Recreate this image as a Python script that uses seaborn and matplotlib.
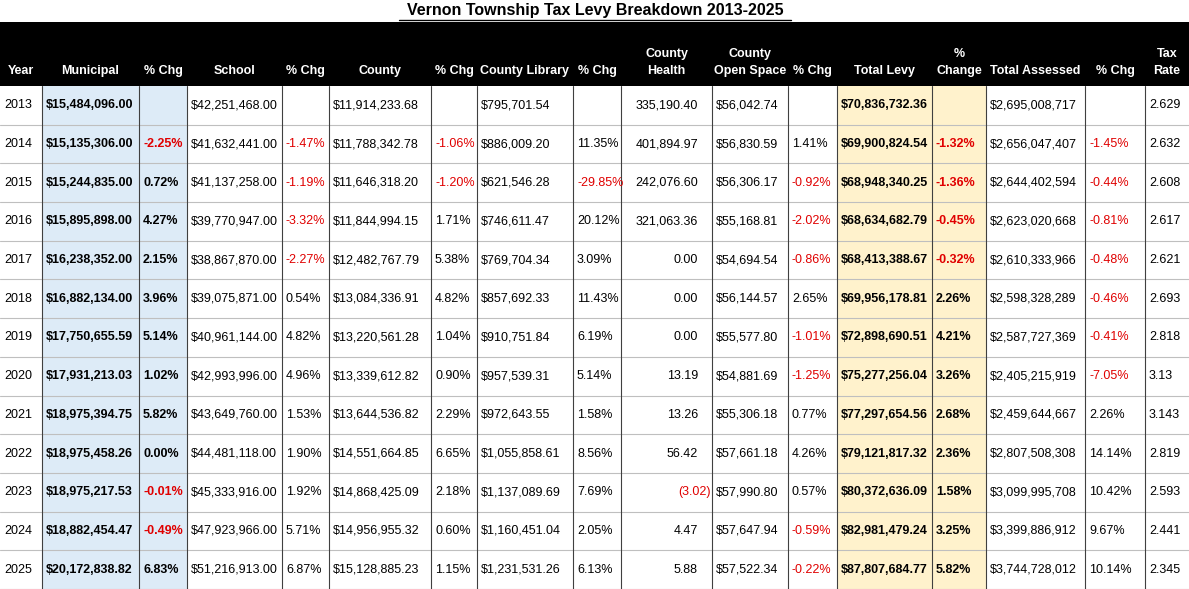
import matplotlib
matplotlib.use("Agg")
import matplotlib.pyplot as plt
import seaborn as sns

sns.set_theme(style="white", font="Liberation Sans")

years = ["2013", "2014", "2015", "2016", "2017", "2018", "2019", "2020", "2021", "2022", "2023", "2024", "2025"]
municipal = ["$15,484,096.00", "$15,135,306.00", "$15,244,835.00", "$15,895,898.00", "$16,238,352.00", "$16,882,134.00",
             "$17,750,655.59", "$17,931,213.03", "$18,975,394.75", "$18,975,458.26", "$18,975,217.53", "$18,882,454.47",
             "$20,172,838.82"]
municipal_chg = ["", "-2.25%", "0.72%", "4.27%", "2.15%", "3.96%", "5.14%", "1.02%", "5.82%", "0.00%", "-0.01%", "-0.49%", "6.83%"]
school = ["$42,251,468.00", "$41,632,441.00", "$41,137,258.00", "$39,770,947.00", "$38,867,870.00", "$39,075,871.00",
          "$40,961,144.00", "$42,993,996.00", "$43,649,760.00", "$44,481,118.00", "$45,333,916.00", "$47,923,966.00",
          "$51,216,913.00"]
school_chg = ["", "-1.47%", "-1.19%", "-3.32%", "-2.27%", "0.54%", "4.82%", "4.96%", "1.53%", "1.90%", "1.92%", "5.71%", "6.87%"]
county = ["$11,914,233.68", "$11,788,342.78", "$11,646,318.20", "$11,844,994.15", "$12,482,767.79", "$13,084,336.91",
          "$13,220,561.28", "$13,339,612.82", "$13,644,536.82", "$14,551,664.85", "$14,868,425.09", "$14,956,955.32",
          "$15,128,885.23"]
county_chg = ["", "-1.06%", "-1.20%", "1.71%", "5.38%", "4.82%", "1.04%", "0.90%", "2.29%", "6.65%", "2.18%", "0.60%", "1.15%"]
library = ["$795,701.54", "$886,009.20", "$621,546.28", "$746,611.47", "$769,704.34", "$857,692.33", "$910,751.84",
           "$957,539.31", "$972,643.55", "$1,055,858.61", "$1,137,089.69", "$1,160,451.04", "$1,231,531.26"]
library_chg = ["", "11.35%", "-29.85%", "20.12%", "3.09%", "11.43%", "6.19%", "5.14%", "1.58%", "8.56%", "7.69%", "2.05%", "6.13%"]
health = ["335,190.40", "401,894.97", "242,076.60", "321,063.36", "0.00", "0.00", "0.00", "13.19", "13.26", "56.42",
          "(3.02)", "4.47", "5.88"]
open_space = ["$56,042.74", "$56,830.59", "$56,306.17", "$55,168.81", "$54,694.54", "$56,144.57", "$55,577.80",
              "$54,881.69", "$55,306.18", "$57,661.18", "$57,990.80", "$57,647.94", "$57,522.34"]
open_space_chg = ["", "1.41%", "-0.92%", "-2.02%", "-0.86%", "2.65%", "-1.01%", "-1.25%", "0.77%", "4.26%", "0.57%", "-0.59%", "-0.22%"]
total_levy = ["$70,836,732.36", "$69,900,824.54", "$68,948,340.25", "$68,634,682.79", "$68,413,388.67", "$69,956,178.81",
              "$72,898,690.51", "$75,277,256.04", "$77,297,654.56", "$79,121,817.32", "$80,372,636.09", "$82,981,479.24",
              "$87,807,684.77"]
total_levy_chg = ["", "-1.32%", "-1.36%", "-0.45%", "-0.32%", "2.26%", "4.21%", "3.26%", "2.68%", "2.36%", "1.58%", "3.25%", "5.82%"]
assessed = ["$2,695,008,717", "$2,656,047,407", "$2,644,402,594", "$2,623,020,668", "$2,610,333,966", "$2,598,328,289",
            "$2,587,727,369", "$2,405,215,919", "$2,459,644,667", "$2,807,508,308", "$3,099,995,708", "$3,399,886,912",
            "$3,744,728,012"]
assessed_chg = ["", "-1.45%", "-0.44%", "-0.81%", "-0.48%", "-0.46%", "-0.41%", "-7.05%", "2.26%", "14.14%", "10.42%", "9.67%", "10.14%"]
tax_rate = ["2.629", "2.632", "2.608", "2.617", "2.621", "2.693", "2.818", "3.13", "3.143", "2.819", "2.593", "2.441", "2.345"]

headers = ["Year", "Municipal", "% Chg", "School", "% Chg", "County", "% Chg", "County Library", "% Chg",
           "County\nHealth", "County\nOpen Space", "% Chg", "Total Levy", "%\nChange", "Total Assessed", "% Chg",
           "Tax\nRate"]
columns = [years, municipal, municipal_chg, school, school_chg, county, county_chg, library, library_chg, health,
           open_space, open_space_chg, total_levy, total_levy_chg, assessed, assessed_chg, tax_rate]

# layout (pixels)
edges = [0, 42, 139, 187, 282, 329, 431, 477, 573, 621, 712, 788, 837, 932, 986, 1085, 1145, 1189]
head_top, head_bot = 22, 86
row_h = (589 - head_bot) / len(years)
bold_cols = {1, 2, 12, 13}
fills = {1: "#DDEBF7", 2: "#DDEBF7", 12: "#FFF2CC", 13: "#FFF2CC"}

fig = plt.figure(figsize=(11.89, 5.89), dpi=100)
ax = fig.add_axes([0, 0, 1, 1])
ax.set_xlim(0, 1189)
ax.set_ylim(589, 0)
ax.axis("off")

ax.text(595, 11, "Vernon Township Tax Levy Breakdown 2013-2025", ha="center", va="center",
        fontsize=11.5, fontweight="bold", color="black")
ax.plot([399, 791], [20, 20], color="black", lw=1)

ax.fill_between([0, 1189], head_top, head_bot, color="black", lw=0)
for c, h in enumerate(headers):
    cx = (edges[c] + edges[c + 1]) / 2
    ax.text(cx, 77, h, ha="center", va="bottom", fontsize=9, fontweight="bold", color="white",
            linespacing=1.55)

for c, col in fills.items():
    ax.fill_between([edges[c], edges[c + 1]], head_bot, 589, color=col, lw=0)

for r in range(len(years)):
    cy = head_bot + (r + 0.5) * row_h
    for c, col in enumerate(columns):
        val = col[r]
        if not val:
            continue
        neg = val.startswith("-") or val.startswith("(")
        color = "#E00000" if neg else "black"
        weight = "bold" if c in bold_cols else "normal"
        if c == 9:
            x, ha = edges[c + 1] - 14, "right"
            if val.startswith("("):
                x = edges[c + 1] - 1
        else:
            x, ha = edges[c] + 4, "left"
        ax.text(x, cy, val, ha=ha, va="center", fontsize=9, fontweight=weight, color=color)
    ax.plot([0, 1189], [head_bot + (r + 1) * row_h] * 2, color="#BFBFBF", lw=0.8)

for e in edges[1:-1]:
    ax.plot([e, e], [head_bot, 589], color="#404040", lw=0.8)

fig.savefig("out.png", dpi=100)
